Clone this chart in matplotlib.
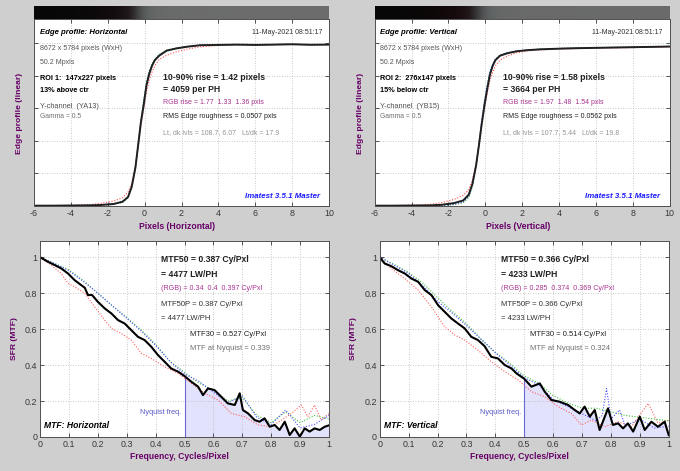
import numpy as np
import matplotlib
matplotlib.use('Agg')
import matplotlib.pyplot as plt

plt.rcParams['font.family'] = 'Liberation Sans'
plt.rcParams['axes.unicode_minus'] = False

W, H = 680, 471
BG = '#cfcfcf'
PURPLE = '#660066'
MAGENTA = '#a8338f'
TICKC = '#383838'

# ---- edge profile data (normalized, linear) ----
edge_x = [-6, -5, -4, -3, -2.4, -1.7, -1.2, -0.9, -0.7, -0.5, -0.35, -0.2, -0.05, 0.1,
          0.25, 0.4, 0.55, 0.8, 1.2, 1.7, 2.3, 3.0, 4, 5, 6, 7, 8, 9, 10]

edge_h_y = [0.002, 0.002, 0.003, 0.004, 0.006, 0.012, 0.026, 0.055, 0.118, 0.235, 0.375, 0.515,
            0.62, 0.74, 0.81, 0.86, 0.894, 0.923, 0.953, 0.966, 0.977, 0.986, 0.988, 0.99,
            0.988, 0.99, 0.992, 0.989, 0.99]
edge_h_r = [0.003, 0.003, 0.004, 0.008, 0.016, 0.03, 0.05, 0.085, 0.14, 0.245, 0.36, 0.49,
            0.6, 0.7, 0.77, 0.82, 0.86, 0.9, 0.925, 0.945, 0.962, 0.976, 0.985, 0.988,
            0.988, 0.99, 0.99, 0.989, 0.99]
edge_h_g = [0.002, 0.002, 0.003, 0.004, 0.005, 0.01, 0.022, 0.05, 0.11, 0.23, 0.38, 0.53,
            0.65, 0.76, 0.83, 0.87, 0.9, 0.93, 0.956, 0.968, 0.978, 0.986, 0.988, 0.99,
            0.988, 0.99, 0.992, 0.989, 0.99]
edge_h_b = [0.002, 0.002, 0.003, 0.005, 0.008, 0.014, 0.028, 0.055, 0.12, 0.235, 0.38, 0.52,
            0.64, 0.75, 0.82, 0.865, 0.895, 0.925, 0.954, 0.967, 0.977, 0.986, 0.988, 0.99,
            0.988, 0.99, 0.992, 0.989, 0.99]

edge_v_y = [0.002, 0.002, 0.003, 0.004, 0.007, 0.018, 0.034, 0.07, 0.135, 0.25, 0.37, 0.5,
            0.615, 0.716, 0.805, 0.86, 0.895, 0.922, 0.937, 0.949, 0.956, 0.961, 0.965, 0.968,
            0.97, 0.972, 0.974, 0.976, 0.978]
edge_v_r = [0.003, 0.003, 0.005, 0.01, 0.02, 0.04, 0.065, 0.1, 0.16, 0.26, 0.37, 0.49,
            0.6, 0.69, 0.77, 0.82, 0.86, 0.895, 0.92, 0.94, 0.952, 0.958, 0.963, 0.966,
            0.968, 0.97, 0.972, 0.974, 0.976]
edge_v_g = [0.002, 0.002, 0.002, 0.003, 0.004, 0.008, 0.02, 0.05, 0.12, 0.245, 0.375, 0.51,
            0.63, 0.73, 0.82, 0.87, 0.9, 0.925, 0.94, 0.95, 0.957, 0.962, 0.966, 0.969,
            0.971, 0.973, 0.975, 0.977, 0.979]
edge_v_b = [0.002, 0.002, 0.002, 0.003, 0.005, 0.01, 0.025, 0.06, 0.13, 0.25, 0.38, 0.52,
            0.64, 0.74, 0.825, 0.87, 0.9, 0.925, 0.94, 0.95, 0.957, 0.962, 0.966, 0.969,
            0.971, 0.973, 0.975, 0.977, 0.979]

# ---- MTF data ----
mtf_h_f = [0, 0.028, 0.051, 0.074, 0.097, 0.12, 0.143, 0.155, 0.166, 0.18, 0.2, 0.224, 0.247,
           0.27, 0.293, 0.316, 0.339, 0.362, 0.385, 0.408, 0.431, 0.454, 0.478, 0.5, 0.524,
           0.547, 0.564, 0.581, 0.604, 0.627, 0.65, 0.674, 0.691, 0.702, 0.72, 0.743, 0.76,
           0.777, 0.795, 0.812, 0.829, 0.847, 0.864, 0.881, 0.899, 0.916, 0.933, 0.95, 0.968,
           0.985, 1.0]
mtf_h_y = [1.0, 0.974, 0.956, 0.937, 0.909, 0.872, 0.844, 0.83, 0.789, 0.79, 0.752, 0.715, 0.687,
           0.65, 0.631, 0.594, 0.557, 0.539, 0.502, 0.456, 0.419, 0.381, 0.363, 0.339, 0.307,
           0.28, 0.233, 0.27, 0.261, 0.224, 0.187, 0.178, 0.243, 0.15, 0.131, 0.094, 0.085,
           0.104, 0.057, 0.067, 0.039, 0.085, 0.011, 0.048, 0.002, 0.048, 0.03, 0.048, 0.039,
           0.057, 0.065]
mtf_h_rf = [0, 0.039, 0.074, 0.097, 0.12, 0.155, 0.189, 0.224, 0.247, 0.281, 0.316, 0.351, 0.385,
            0.431, 0.478, 0.524, 0.57, 0.616, 0.662, 0.708, 0.754, 0.8, 0.835, 0.87, 0.904,
            0.927, 0.95, 0.973, 1.0]
mtf_h_r = [1.0, 0.956, 0.909, 0.854, 0.835, 0.798, 0.724, 0.65, 0.604, 0.576, 0.539, 0.465, 0.437,
           0.391, 0.354, 0.298, 0.243, 0.206, 0.131, 0.113, 0.067, 0.057, 0.094, 0.131, 0.178,
           0.113, 0.178, 0.094, 0.131]
mtf_gb_f = [0, 0.05, 0.1, 0.15, 0.2, 0.25, 0.3, 0.35, 0.4, 0.45, 0.5, 0.55, 0.6, 0.65, 0.7,
            0.75, 0.8, 0.85, 0.9, 0.95, 1.0]
mtf_h_g = [1.0, 0.965, 0.93, 0.87, 0.8, 0.73, 0.665, 0.595, 0.515, 0.42, 0.36, 0.3, 0.26, 0.2,
           0.22, 0.12, 0.08, 0.14, 0.08, 0.12, 0.1]
mtf_h_b = [1.0, 0.965, 0.925, 0.865, 0.8, 0.73, 0.66, 0.59, 0.51, 0.42, 0.35, 0.31, 0.25, 0.19,
           0.23, 0.11, 0.07, 0.15, 0.05, 0.07, 0.12]

mtf_v_f = [0, 0.017, 0.04, 0.063, 0.087, 0.11, 0.133, 0.156, 0.179, 0.202, 0.225, 0.248, 0.271,
           0.294, 0.317, 0.34, 0.363, 0.386, 0.409, 0.433, 0.456, 0.473, 0.5, 0.525, 0.554,
           0.571, 0.594, 0.623, 0.652, 0.675, 0.692, 0.709, 0.727, 0.744, 0.761, 0.79, 0.807,
           0.825, 0.842, 0.859, 0.877, 0.9, 0.917, 0.94, 0.963, 0.986, 1.0]
mtf_v_y = [1.0, 0.965, 0.95, 0.928, 0.909, 0.881, 0.863, 0.817, 0.789, 0.733, 0.696, 0.659, 0.631,
           0.604, 0.557, 0.539, 0.505, 0.446, 0.437, 0.4, 0.381, 0.354, 0.324, 0.28, 0.298,
           0.252, 0.206, 0.196, 0.178, 0.15, 0.131, 0.169, 0.113, 0.15, 0.039, 0.159, 0.067,
           0.076, 0.048, 0.076, 0.03, 0.113, 0.039, 0.085, 0.057, 0.085, 0.011]
mtf_v_rf = [0, 0.04, 0.087, 0.133, 0.179, 0.225, 0.26, 0.294, 0.34, 0.386, 0.433, 0.479, 0.525,
            0.571, 0.617, 0.663, 0.698, 0.732, 0.779, 0.825, 0.871, 0.929, 0.963, 1.0]
mtf_v_r = [1.0, 0.937, 0.881, 0.817, 0.724, 0.613, 0.567, 0.539, 0.483, 0.419, 0.363, 0.317, 0.252,
           0.224, 0.169, 0.131, 0.067, 0.094, 0.057, 0.085, 0.057, 0.187, 0.076, 0.094]
mtf_v_g = [1.0, 0.96, 0.915, 0.855, 0.775, 0.7, 0.63, 0.545, 0.47, 0.41, 0.34, 0.3, 0.23, 0.19,
           0.16, 0.16, 0.14, 0.12, 0.11, 0.1, 0.09]
mtf_v_bf = [0, 0.05, 0.1, 0.15, 0.2, 0.25, 0.3, 0.35, 0.4, 0.45, 0.5, 0.55, 0.6, 0.65, 0.7,
            0.75, 0.77, 0.785, 0.8, 0.83, 0.85, 0.9, 0.95, 1.0]
mtf_v_b = [1.0, 0.955, 0.91, 0.84, 0.755, 0.69, 0.62, 0.545, 0.47, 0.4, 0.33, 0.29, 0.21, 0.17,
           0.13, 0.09, 0.12, 0.27, 0.1, 0.15, 0.06, 0.1, 0.05, 0.06]

nyq_h, nyq_v = 0.339, 0.324
lt_dk_h = (108.7, 6.07)
lt_dk_v = (107.7, 5.44)

panels = [
    dict(dx=0, name='Horizontal', ey=edge_h_y, er=edge_h_r, eg=edge_h_g, eb=edge_h_b, lvl=lt_dk_h,
         info=['8672 x 5784 pixels (WxH)', '50.2 Mpxls', 'ROI 1:  147x227 pixels', '13% above ctr',
               'Y-channel  (YA13)', 'Gamma = 0.5'],
         rise=['10-90% rise = 1.42 pixels', '= 4059 per PH', 'RGB rise = 1.77  1.33  1.36 pxls',
               'RMS Edge roughness = 0.0507 pxls', 'Lt, dk lvls = 108.7, 6.07   Lt/dk = 17.9'],
         mf=mtf_h_f, my=mtf_h_y, mrf=mtf_h_rf, mr=mtf_h_r, mgf=mtf_gb_f, mg=mtf_h_g,
         mbf=mtf_gb_f, mb=mtf_h_b, nyq=nyq_h,
         mtxt=['MTF50 = 0.387 Cy/Pxl', '= 4477 LW/PH', '(RGB) = 0.34  0.4  0.397 Cy/Pxl',
               'MTF50P = 0.387 Cy/Pxl', '= 4477 LW/PH', 'MTF30 = 0.527 Cy/Pxl',
               'MTF at Nyquist = 0.339']),
    dict(dx=340, name='Vertical', ey=edge_v_y, er=edge_v_r, eg=edge_v_g, eb=edge_v_b, lvl=lt_dk_v,
         info=['8672 x 5784 pixels (WxH)', '50.2 Mpxls', 'ROI 2:  276x147 pixels', '15% below ctr',
               'Y-channel  (YB15)', 'Gamma = 0.5'],
         rise=['10-90% rise = 1.58 pixels', '= 3664 per PH', 'RGB rise = 1.97  1.48  1.54 pxls',
               'RMS Edge roughness = 0.0562 pxls', 'Lt, dk lvls = 107.7, 5.44   Lt/dk = 19.8'],
         mf=mtf_v_f, my=mtf_v_y, mrf=mtf_v_rf, mr=mtf_v_r, mgf=mtf_gb_f, mg=mtf_v_g,
         mbf=mtf_v_bf, mb=mtf_v_b, nyq=nyq_v,
         mtxt=['MTF50 = 0.366 Cy/Pxl', '= 4233 LW/PH', '(RGB) = 0.285  0.374  0.369 Cy/Pxl',
               'MTF50P = 0.366 Cy/Pxl', '= 4233 LW/PH', 'MTF30 = 0.514 Cy/Pxl',
               'MTF at Nyquist = 0.324']),
]

fig = plt.figure(figsize=(W / 100, H / 100), dpi=100, facecolor=BG)


def rect(x0, y0, x1, y1):
    # pixel box (top-left origin) -> figure fraction rect
    return [x0 / W, 1 - y1 / H, (x1 - x0) / W, (y1 - y0) / H]


def put(x, y, s, **kw):
    fig.text(x / W, 1 - y / H, s, va='center', **kw)


def style(ax):
    ax.set_facecolor('white')
    ax.tick_params(direction='in', length=3, width=0.6, top=True, right=True,
                   labelsize=6.4, colors=TICKC, pad=2)
    for sp in ax.spines.values():
        sp.set_color('#505050')
        sp.set_linewidth(0.7)
    ax.grid(True, linestyle=(0, (1, 2)), color='#b8b8b8', linewidth=0.6)


dots = (0, (1, 1.5))

for p in panels:
    dx = p['dx']
    off = 0 if dx == 0 else 340.7

    # edge strip image from the R, G, B profiles
    lt, dk = p['lvl']
    fx = np.linspace(-6, 10, 400)
    chans = []
    for ch in (p['er'], p['eg'], p['eb']):
        v = np.interp(fx, edge_x, ch)
        lin = (dk / 255) ** 2 + v * ((lt / 255) ** 2 - (dk / 255) ** 2)
        chans.append(np.sqrt(np.clip(lin, 0, 1)))
    img = np.stack(chans, axis=-1)[None, :, :]
    axb = fig.add_axes(rect(34 + off, 6, 329 + off, 19))
    axb.imshow(img, aspect='auto', extent=(-6, 10, 0, 1), interpolation='bilinear')
    axb.set_axis_off()

    # edge profile
    ax = fig.add_axes(rect(34 + off, 19, 329 + off, 206))
    style(ax)
    ax.plot(edge_x, p['er'], color='#ff5050', lw=0.8, ls=dots)
    ax.plot(edge_x, p['eg'], color='#30b030', lw=0.8, ls=dots)
    ax.plot(edge_x, p['eb'], color='#4040ff', lw=0.8, ls=dots)
    ax.plot(edge_x, p['ey'], color='#202020', lw=1.4)
    ax.set_xlim(-6, 10)
    ax.set_ylim(0, 1.147)
    ax.set_xticks(range(-6, 11, 2))
    ax.set_yticks([0, 0.2, 0.4, 0.6, 0.8, 1.0])
    ax.set_yticklabels([])
    ax.set_xlabel(f"Pixels ({p['name']})", fontsize=6.2, fontweight='bold', color=PURPLE)
    ax.xaxis.set_label_coords(0.485, -0.085)
    fig.text((20 + dx) / W, 1 - 113 / H, 'Edge profile (linear)', rotation=90, ha='center',
             va='center', fontsize=6.1, fontweight='bold', color=PURPLE)

    put(40 + dx, 32, f"Edge profile: {p['name']}", fontsize=5.6, fontweight='bold',
        style='italic')
    put(322 + dx, 32, '11-May-2021 08:51:17', fontsize=5.0, ha='right', color='#303030')
    info = p['info']
    put(40 + dx, 49, info[0], fontsize=5.1, color='#555555')
    put(40 + dx, 62, info[1], fontsize=5.0, color='#555555')
    put(40 + dx, 79, info[2], fontsize=5.2, fontweight='bold')
    put(40 + dx, 90.5, info[3], fontsize=5.2, fontweight='bold')
    put(40 + dx, 106, info[4], fontsize=5.3, color='#505050')
    put(40 + dx, 117, info[5], fontsize=4.9, color='#707070')

    rise = p['rise']
    put(163 + dx, 77, rise[0], fontsize=6.2, fontweight='bold', color='#202020')
    put(163 + dx, 90, rise[1], fontsize=6.2, fontweight='bold', color='#202020')
    put(163 + dx, 103, rise[2], fontsize=5.0, color=MAGENTA)
    put(163 + dx, 116, rise[3], fontsize=5.0, color='#202020')
    put(163 + dx, 132.5, rise[4], fontsize=5.0, color='#959595')
    put(320 + dx, 197, 'Imatest 3.5.1 Master', fontsize=5.7, fontweight='bold',
        style='italic', color='#1a1aff', ha='right')

    # MTF
    off2 = 0 if dx == 0 else 339.7
    axm = fig.add_axes(rect(40 + off2, 241, 329 + off2, 437))
    style(axm)
    f = np.array(p['mf'])
    y = np.array(p['my'])
    sel = f >= 0.5
    axm.fill_between(f[sel], 0, y[sel], color='#e2e2fc', lw=0)
    axm.plot([0.5, 0.5], [0, p['nyq']], color='#6a6ad0', lw=0.8)
    axm.plot(p['mrf'], p['mr'], color='#ff6060', lw=0.8, ls=dots)
    axm.plot(p['mgf'], p['mg'], color='#40c040', lw=0.8, ls=dots)
    axm.plot(p['mbf'], p['mb'], color='#5050ff', lw=0.8, ls=dots)
    axm.plot(f, y, color='black', lw=1.5)
    axm.set_xlim(0, 1)
    axm.set_ylim(0, 1.09)
    xt = [i / 10 for i in range(11)]
    axm.set_xticks(xt)
    axm.set_xticklabels(['0'] + [f'{v:.1f}' for v in xt[1:-1]] + ['1'])
    axm.set_yticks([0, 0.2, 0.4, 0.6, 0.8, 1.0])
    axm.set_yticklabels(['0', '0.2', '0.4', '0.6', '0.8', '1'])
    axm.set_xlabel('Frequency, Cycles/Pixel', fontsize=6.2, fontweight='bold', color=PURPLE)
    axm.xaxis.set_label_coords(0.483, -0.077)
    fig.text((14 + off2) / W, 1 - 339 / H, 'SFR (MTF)', rotation=90, ha='center', va='center',
             fontsize=6.1, fontweight='bold', color=PURPLE)

    mt = p['mtxt']
    put(161 + off2, 260, mt[0], fontsize=6.2, fontweight='bold', color='#202020')
    put(161 + off2, 274.5, mt[1], fontsize=6.2, fontweight='bold', color='#202020')
    put(161 + off2, 288, mt[2], fontsize=5.1, color=MAGENTA)
    put(161 + off2, 305, mt[3], fontsize=5.5, color='#303030')
    put(161 + off2, 318.5, mt[4], fontsize=5.5, color='#303030')
    put(190 + off2, 334.5, mt[5], fontsize=5.5, color='#202020')
    put(190 + off2, 348, mt[6], fontsize=5.5, color='#707070')
    put(181 + off2, 413, 'Nyquist freq.', fontsize=5.3, color='#5a5ac8', ha='right')
    put(44 + off2, 426, f"MTF: {p['name']}", fontsize=6.2, fontweight='bold', style='italic')

fig.savefig('out.png', dpi=100, facecolor=BG)
